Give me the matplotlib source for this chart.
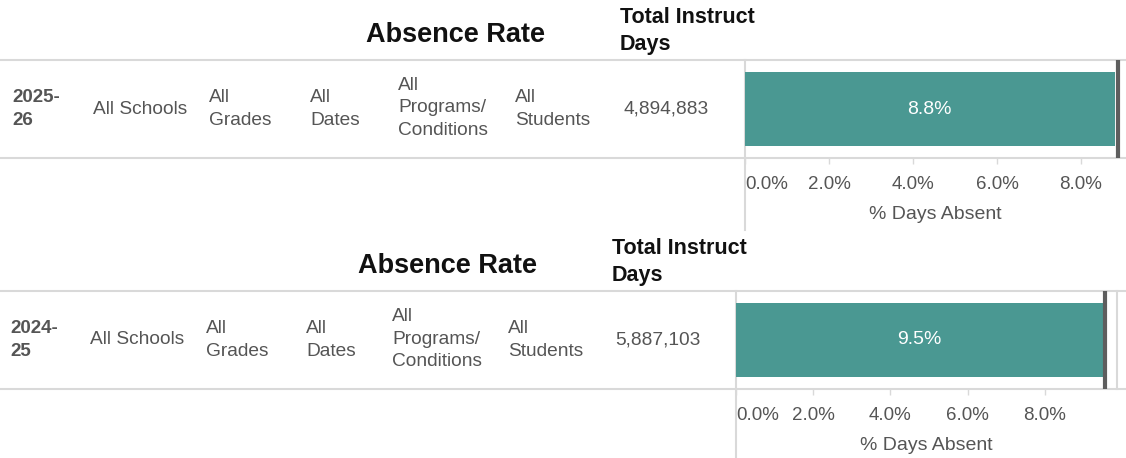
import matplotlib.pyplot as plt

plt.rcParams['font.family'] = ['Liberation Sans', 'DejaVu Sans']

# data
years = ['2025-\n26', '2024-\n25']
schools = ['All Schools', 'All Schools']
grades = ['All\nGrades', 'All\nGrades']
dates = ['All\nDates', 'All\nDates']
programs = ['All\nPrograms/\nConditions', 'All\nPrograms/\nConditions']
students = ['All\nStudents', 'All\nStudents']
instruct_days = [4894883, 5887103]
absence_pct = [8.8, 9.5]
ticks = [0, 2, 4, 6, 8]

teal = '#4a9892'
grey_txt = '#555555'
rule = '#d9d9d9'

fig = plt.figure(figsize=(11.26, 4.58), dpi=100)
bg = fig.add_axes([0, 0, 1, 1])
bg.set_xlim(0, 1126)
bg.set_ylim(458, 0)
bg.axis('off')

# panel layout in pixels: (y offset, x shift, axis x0, axis x1)
panels = [(0, 0, 745, 1126), (231, -8, 736, 1117)]

for i, (dy, dx, ax0, ax1) in enumerate(panels):
    top = 60 + dy
    bot = 158 + dy
    mid = 109 + dy

    bg.text(455 + dx, 35 + dy, 'Absence Rate', fontsize=19.5, fontweight='bold',
            color='#111111', ha='center', va='center')
    bg.text(620 + dx, 31 + dy, 'Total Instruct\nDays', fontsize=15.5, fontweight='bold',
            color='#111111', ha='left', va='center', linespacing=1.4)

    bg.plot([0, 1126], [top, top], color=rule, lw=1.5)
    bg.plot([0, 1126], [bot, bot], color=rule, lw=1.5)
    bg.plot([ax0, ax0], [top, 230 + dy], color=rule, lw=1.5)
    if i == 1:
        bg.plot([ax1, ax1], [top, bot], color=rule, lw=1.5)

    bg.text(12 + dx * 0.25, mid, years[i], fontsize=13.5, fontweight='bold',
            color=grey_txt, ha='left', va='center', linespacing=1.45)
    bg.text(93 + dx * 0.4, mid, schools[i], fontsize=13.8, color=grey_txt,
            ha='left', va='center')
    bg.text(209 + dx * 0.4, mid, grades[i], fontsize=13.8, color=grey_txt,
            ha='left', va='center', linespacing=1.45)
    bg.text(310 + dx * 0.5, mid, dates[i], fontsize=13.8, color=grey_txt,
            ha='left', va='center', linespacing=1.45)
    bg.text(398 + dx * 0.75, mid - 1, programs[i], fontsize=13.8, color=grey_txt,
            ha='left', va='center', linespacing=1.4)
    bg.text(515 + dx * 0.9, mid, students[i], fontsize=13.8, color=grey_txt,
            ha='left', va='center', linespacing=1.45)
    bg.text(623 + dx, mid, f'{instruct_days[i]:,}', fontsize=13.8, color=grey_txt,
            ha='left', va='center')

    # bar axes
    ax = fig.add_axes([ax0 / 1126, (458 - bot) / 458, (ax1 - ax0) / 1126, (bot - top) / 458])
    ax.patch.set_alpha(0)
    px_per_pct = 42 if i == 0 else 38.6
    ax.set_xlim(0, (ax1 - ax0) / px_per_pct)
    ax.set_ylim(0, 1)
    bars = ax.barh(0.5, absence_pct[i], height=0.755, color=teal)
    ax.bar_label(bars, labels=[f'{absence_pct[i]:.1f}%'], label_type='center',
                 color='white', fontsize=14)
    ax.axvline(absence_pct[i] + 0.07, ymin=0.02, ymax=0.98, color='#5e5e5e', lw=3)
    for s in ax.spines.values():
        s.set_visible(False)
    ax.set_yticks([])
    ax.set_xticks(ticks)
    ax.set_xticklabels([f'{t:.1f}%' for t in ticks])
    ax.get_xticklabels()[0].set_horizontalalignment('left')
    ax.tick_params(axis='x', length=4, width=1, color=rule, labelsize=13.5,
                   labelcolor=grey_txt, pad=9)
    ax.set_xlabel('% Days Absent', fontsize=14, color=grey_txt, labelpad=9)

fig.savefig('out.png', dpi=100)
